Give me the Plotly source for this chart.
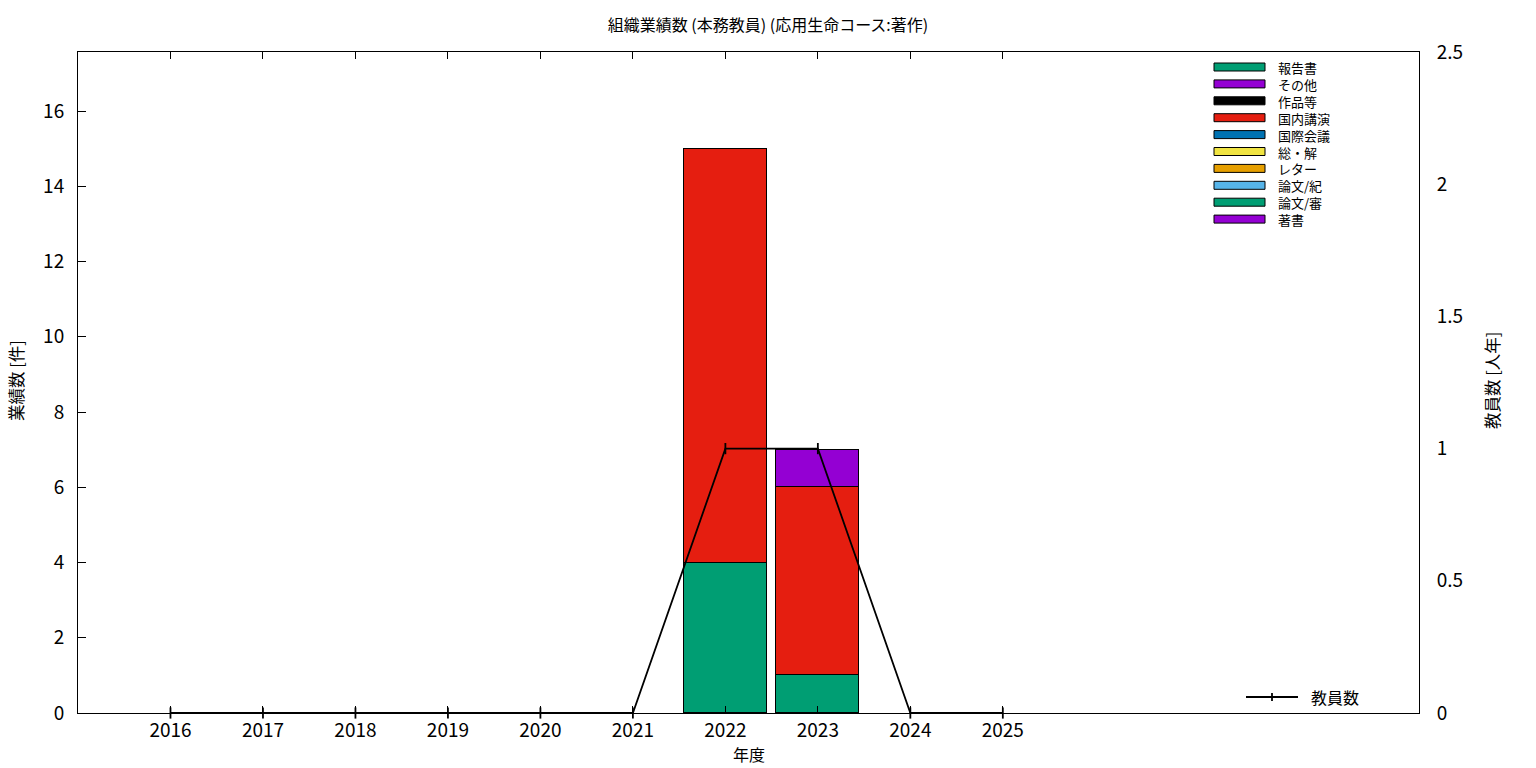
import plotly.graph_objects as go

years = [2016, 2017, 2018, 2019, 2020, 2021, 2022, 2023, 2024, 2025]

# stacked from bottom to top
categories = ["著書", "論文/審", "論文/紀", "レター", "総・解", "国際会議", "国内講演", "作品等", "その他", "報告書"]
colors = ["#9400D3", "#009E73", "#56B4E9", "#E69F00", "#F0E442", "#0072B2", "#E51E10", "#000000", "#9400D3", "#009E73"]

v_chosho = [0, 0, 0, 0, 0, 0, 0, 0, 0, 0]
v_ronbun_sin = [0, 0, 0, 0, 0, 0, 4, 1, 0, 0]
v_ronbun_ki = [0, 0, 0, 0, 0, 0, 0, 0, 0, 0]
v_letter = [0, 0, 0, 0, 0, 0, 0, 0, 0, 0]
v_sokai = [0, 0, 0, 0, 0, 0, 0, 0, 0, 0]
v_kokusai = [0, 0, 0, 0, 0, 0, 0, 0, 0, 0]
v_kokunai = [0, 0, 0, 0, 0, 0, 11, 5, 0, 0]
v_sakuhin = [0, 0, 0, 0, 0, 0, 0, 0, 0, 0]
v_sonota = [0, 0, 0, 0, 0, 0, 0, 1, 0, 0]
v_hokoku = [0, 0, 0, 0, 0, 0, 0, 0, 0, 0]
series = [v_chosho, v_ronbun_sin, v_ronbun_ki, v_letter, v_sokai, v_kokusai,
          v_kokunai, v_sakuhin, v_sonota, v_hokoku]

faculty = [0, 0, 0, 0, 0, 0, 1, 1, 0, 0]

FONT = "Noto Sans CJK JP"

fig = go.Figure()
for name, col, vals in zip(categories, colors, series):
    fig.add_trace(go.Bar(
        x=years, y=[v if v else None for v in vals], name=name,
        marker=dict(color=col, line=dict(color="black", width=1)),
        width=0.9, showlegend=False))

fig.add_trace(go.Scatter(
    x=years, y=faculty, name="教員数", yaxis="y2", mode="lines+markers",
    line=dict(color="black", width=1.8),
    marker=dict(symbol="line-ns-open", size=8, line=dict(color="black", width=1.8)),
    showlegend=False, cliponaxis=False))

FW, FH = 1536, 768
# plot area in pixels
L, R, T, B = 78, 1419, 52, 713
W, H = R - L, B - T
def px(x):
    return (x - L) / W
def py(y):
    return (B - y) / H

shapes = []
legend_order = list(reversed(list(zip(categories, colors))))
for i, (name, col) in enumerate(legend_order):
    yc = 67 + i * 16.9
    shapes.append(dict(type="rect", xref="paper", yref="paper",
                       x0=px(1214), x1=px(1265), y0=py(yc + 4), y1=py(yc - 4),
                       fillcolor=col, line=dict(color="black", width=1)))
annotations = [dict(xref="paper", yref="paper", x=px(1276), y=py(67 + 4.5 * 16.9),
                    text="<br>".join(n for n, _ in legend_order), showarrow=False,
                    xanchor="left", yanchor="middle", align="left",
                    font=dict(family=FONT, size=13, color="black"))]
# line legend
shapes.append(dict(type="line", xref="paper", yref="paper",
                   x0=px(1246), x1=px(1298), y0=py(697), y1=py(697),
                   line=dict(color="black", width=1.8)))
shapes.append(dict(type="line", xref="paper", yref="paper",
                   x0=px(1272), x1=px(1272), y0=py(693), y1=py(701),
                   line=dict(color="black", width=1.8)))
annotations.append(dict(xref="paper", yref="paper", x=px(1309), y=py(697),
                        text="教員数", showarrow=False, xanchor="left", yanchor="middle",
                        font=dict(family=FONT, size=16, color="black")))
# axis titles
annotations.append(dict(xref="paper", yref="paper", x=px(749), y=py(754),
                        text="年度", showarrow=False, xanchor="center", yanchor="middle",
                        font=dict(family=FONT, size=16, color="black")))
annotations.append(dict(xref="paper", yref="paper", x=px(16), y=py(381),
                        text="業績数 [件]", showarrow=False, xanchor="center", yanchor="middle",
                        textangle=-90, font=dict(family=FONT, size=16.5, color="black")))
annotations.append(dict(xref="paper", yref="paper", x=px(1492), y=py(381),
                        text="教員数 [人年]", showarrow=False, xanchor="center", yanchor="middle",
                        textangle=-90, font=dict(family=FONT, size=16.5, color="black")))

fig.update_layout(
    width=FW, height=FH,
    margin=dict(l=L, r=FW - R, t=T, b=FH - B, pad=0),
    paper_bgcolor="white", plot_bgcolor="white",
    barmode="stack", bargap=0,
    font=dict(family=FONT, size=16, color="black"),
    title=dict(text="組織業績数 (本務教員) (応用生命コース:著作)", x=0.5, xanchor="center",
               y=1 - 25 / FH, yanchor="middle", font=dict(family=FONT, size=16)),
    xaxis=dict(range=[2015, 2029.5], tickvals=years, ticktext=[str(y) for y in years],
               ticks="inside", ticklen=7, tickcolor="black", showline=True, linecolor="black",
               linewidth=1, mirror="ticks", showgrid=False, zeroline=False,
               ticklabelstandoff=0, automargin=False,
               tickfont=dict(family=FONT, size=19)),
    yaxis=dict(range=[0, 17.57], tickvals=[0, 2, 4, 6, 8, 10, 12, 14, 16],
               ticks="inside", ticklen=8, tickcolor="black", showline=True, linecolor="black",
               linewidth=1, showgrid=False, zeroline=False, ticklabelstandoff=9,
               automargin=False,
               tickfont=dict(family=FONT, size=19)),
    yaxis2=dict(range=[0, 2.5], overlaying="y", side="right",
                tickvals=[0, 0.5, 1, 1.5, 2, 2.5], ticktext=["0", "0.5", "1", "1.5", "2", "2.5"],
                ticks="", showline=True, linecolor="black", linewidth=1,
                showgrid=False, zeroline=False, ticklabelstandoff=13, automargin=False,
                tickfont=dict(family=FONT, size=19)),
    shapes=shapes, annotations=annotations,
)

fig.write_html("out.html", config={"displayModeBar": False},
               post_script="document.body.style.margin='0';document.body.style.overflow='hidden';")
